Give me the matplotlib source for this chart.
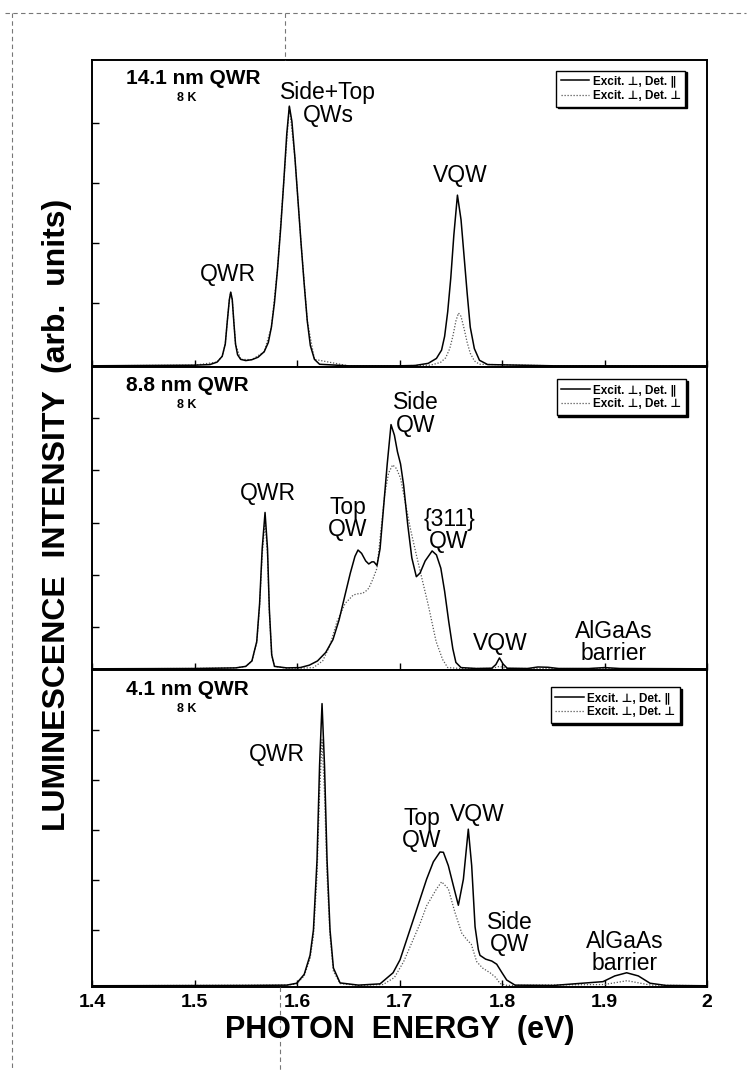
import numpy as np
import matplotlib
matplotlib.use('Agg')
import matplotlib.pyplot as plt
from matplotlib.lines import Line2D

plt.rcParams['font.family'] = ['Liberation Sans', 'DejaVu Sans']

# ---- 14.1 nm QWR, 8 K ----
e_141_par = [1.400, 1.450, 1.500, 1.515, 1.522, 1.527, 1.530, 1.532, 1.534, 1.5353, 1.5368,
             1.5385, 1.540, 1.542, 1.545, 1.550, 1.556, 1.562, 1.568, 1.572, 1.575, 1.578,
             1.581, 1.584, 1.587, 1.590, 1.5925, 1.595, 1.598, 1.601, 1.604, 1.607, 1.610,
             1.613, 1.617, 1.622, 1.650, 1.700, 1.715, 1.728, 1.736, 1.741, 1.744, 1.747,
             1.750, 1.753, 1.7565, 1.760, 1.763, 1.766, 1.769, 1.773, 1.778, 1.786, 1.850, 2.000]
i_141_par = [0.004, 0.005, 0.006, 0.008, 0.016, 0.035, 0.075, 0.150, 0.220, 0.244, 0.220,
             0.140, 0.075, 0.040, 0.025, 0.021, 0.024, 0.032, 0.050, 0.080, 0.130, 0.210,
             0.320, 0.450, 0.600, 0.760, 0.850, 0.800, 0.680, 0.540, 0.400, 0.270, 0.150,
             0.070, 0.025, 0.009, 0.004, 0.004, 0.005, 0.012, 0.028, 0.055, 0.100, 0.180,
             0.290, 0.430, 0.560, 0.480, 0.360, 0.240, 0.130, 0.060, 0.022, 0.008, 0.004, 0.004]
e_141_perp = [1.400, 1.500, 1.522, 1.527, 1.530, 1.532, 1.534, 1.5353, 1.5368, 1.5385, 1.540,
              1.545, 1.556, 1.568, 1.575, 1.581, 1.587, 1.5925, 1.598, 1.604, 1.610, 1.617,
              1.650, 1.700, 1.730, 1.740, 1.745, 1.749, 1.752, 1.755, 1.7575, 1.760, 1.763,
              1.766, 1.769, 1.773, 1.778, 1.850, 2.000]
i_141_perp = [0.004, 0.006, 0.016, 0.035, 0.075, 0.150, 0.220, 0.244, 0.220, 0.140, 0.075,
              0.025, 0.024, 0.050, 0.130, 0.320, 0.600, 0.850, 0.680, 0.400, 0.150, 0.025,
              0.004, 0.004, 0.006, 0.015, 0.030, 0.060, 0.100, 0.150, 0.176, 0.165, 0.125,
              0.080, 0.045, 0.020, 0.009, 0.004, 0.004]

# ---- 8.8 nm QWR, 8 K ----
e_88_par = [1.400, 1.500, 1.540, 1.550, 1.556, 1.5607, 1.5635, 1.566, 1.5688, 1.5712, 1.5730,
            1.5753, 1.578, 1.590, 1.603, 1.612, 1.620, 1.628, 1.635, 1.641, 1.647, 1.652,
            1.6565, 1.6595, 1.663, 1.667, 1.670, 1.673, 1.675, 1.678, 1.681, 1.684, 1.688,
            1.6917, 1.695, 1.698, 1.701, 1.704, 1.708, 1.712, 1.7164, 1.720, 1.725, 1.7318,
            1.736, 1.7403, 1.744, 1.748, 1.752, 1.755, 1.760, 1.775, 1.790, 1.794, 1.7975,
            1.801, 1.805, 1.825, 1.835, 1.845, 1.855, 1.885, 1.900, 1.915, 2.000]
i_88_par = [0.004, 0.005, 0.007, 0.012, 0.030, 0.094, 0.220, 0.400, 0.520, 0.400, 0.200,
            0.050, 0.012, 0.007, 0.008, 0.016, 0.030, 0.058, 0.100, 0.165, 0.250, 0.320,
            0.375, 0.396, 0.385, 0.360, 0.350, 0.357, 0.357, 0.345, 0.400, 0.520, 0.680,
            0.810, 0.775, 0.720, 0.680, 0.610, 0.480, 0.370, 0.308, 0.320, 0.360, 0.393,
            0.380, 0.336, 0.260, 0.160, 0.070, 0.025, 0.008, 0.005, 0.006, 0.018, 0.040,
            0.020, 0.006, 0.005, 0.010, 0.009, 0.005, 0.005, 0.008, 0.005, 0.004]
e_88_perp = [1.400, 1.500, 1.540, 1.550, 1.556, 1.5607, 1.5635, 1.566, 1.5688, 1.5712, 1.5730,
             1.5753, 1.578, 1.590, 1.603, 1.616, 1.625, 1.632, 1.639, 1.647, 1.655, 1.660,
             1.664, 1.667, 1.670, 1.674, 1.678, 1.6815, 1.6856, 1.6893, 1.6933, 1.697, 1.701,
             1.7067, 1.711, 1.7164, 1.722, 1.728, 1.7357, 1.742, 1.747, 1.760, 1.790, 1.7975,
             1.805, 2.000]
i_88_perp = [0.004, 0.005, 0.007, 0.012, 0.030, 0.090, 0.210, 0.380, 0.490, 0.380, 0.190,
             0.050, 0.012, 0.006, 0.006, 0.008, 0.030, 0.080, 0.160, 0.220, 0.248, 0.252,
             0.253, 0.260, 0.270, 0.300, 0.336, 0.450, 0.580, 0.650, 0.677, 0.665, 0.633,
             0.534, 0.460, 0.380, 0.300, 0.215, 0.094, 0.035, 0.008, 0.005, 0.005, 0.012,
             0.005, 0.004]

# ---- 4.1 nm QWR, 8 K ----
e_41_par = [1.400, 1.550, 1.590, 1.5997, 1.607, 1.6127, 1.616, 1.6195, 1.622, 1.6244, 1.6268,
            1.6293, 1.6322, 1.6355, 1.642, 1.660, 1.681, 1.6937, 1.7005, 1.7135, 1.7264,
            1.733, 1.7395, 1.7428, 1.7476, 1.7525, 1.7574, 1.7623, 1.7671, 1.7704, 1.7737,
            1.7769, 1.7785, 1.784, 1.790, 1.7948, 1.800, 1.8046, 1.8127, 1.850, 1.8985,
            1.910, 1.9216, 1.933, 1.9444, 1.960, 2.000]
i_41_par = [0.004, 0.005, 0.006, 0.012, 0.040, 0.100, 0.180, 0.400, 0.700, 0.894, 0.700,
            0.400, 0.180, 0.060, 0.013, 0.006, 0.010, 0.045, 0.086, 0.213, 0.340,
            0.395, 0.426, 0.425, 0.383, 0.320, 0.258, 0.340, 0.498, 0.383, 0.190,
            0.118, 0.100, 0.088, 0.082, 0.072, 0.045, 0.022, 0.006, 0.005, 0.017,
            0.035, 0.045, 0.035, 0.012, 0.005, 0.004]
e_41_perp = [1.400, 1.590, 1.5997, 1.607, 1.6127, 1.616, 1.6195, 1.622, 1.6244, 1.6268, 1.6293,
             1.6322, 1.6355, 1.642, 1.660, 1.684, 1.695, 1.704, 1.712, 1.720, 1.7264, 1.7362,
             1.7411, 1.7476, 1.7541, 1.7607, 1.7655, 1.770, 1.7753, 1.781, 1.7883, 1.794,
             1.798, 1.805, 1.900, 1.922, 1.945, 2.000]
i_41_perp = [0.004, 0.006, 0.010, 0.035, 0.090, 0.160, 0.350, 0.610, 0.780, 0.610, 0.350,
             0.160, 0.050, 0.011, 0.005, 0.008, 0.030, 0.080, 0.140, 0.200, 0.256, 0.310,
             0.332, 0.310, 0.235, 0.170, 0.150, 0.135, 0.080, 0.060, 0.045, 0.030,
             0.011, 0.005, 0.008, 0.020, 0.006, 0.004]

titles = ['14.1 nm QWR', '8.8 nm QWR', '4.1 nm QWR']
temps = ['8 K', '8 K', '8 K']

# peak labels: (text, energy, height)
labels_141 = [('QWR', 1.5327, 0.303), ('Side+Top\nQWs', 1.6302, 0.857), ('VQW', 1.759, 0.625)]
labels_88 = [('QWR', 1.5717, 0.584), ('Top\nQW', 1.6498, 0.50), ('Side\nQW', 1.7161, 0.845),
             ('{311}\nQW', 1.7483, 0.46), ('VQW', 1.798, 0.086), ('AlGaAs\nbarrier', 1.9093, 0.091)]
labels_41 = [('QWR', 1.5805, 0.732), ('Top\nQW', 1.722, 0.498), ('VQW', 1.7756, 0.543),
             ('Side\nQW', 1.8078, 0.169), ('AlGaAs\nbarrier', 1.92, 0.11)]

xticks = [1.4, 1.5, 1.6, 1.7, 1.8, 1.9, 2.0]
xticklabels = ['1.4', '1.5', '1.6', '1.7', '1.8', '1.9', '2']

fig = plt.figure(figsize=(7.5, 10.71), dpi=100)

# axes boxes in figure fraction (left, bottom, width, height)
boxes = [(0.1227, 0.6573, 0.82, 0.2866),
         (0.1227, 0.3744, 0.82, 0.2829),
         (0.1227, 0.0784, 0.82, 0.2960)]
yticks = [[0.208, 0.404, 0.599, 0.795],
          [0.142, 0.314, 0.485, 0.660, 0.832],
          [0.180, 0.338, 0.495, 0.653, 0.811]]
legend_anchor = [(0.965, 0.965), (0.966, 0.960), (0.956, 0.946)]

panels = [(e_141_par, i_141_par, e_141_perp, i_141_perp, labels_141),
          (e_88_par, i_88_par, e_88_perp, i_88_perp, labels_88),
          (e_41_par, i_41_par, e_41_perp, i_41_perp, labels_41)]

for k, (ep, ip, es, is_, labs) in enumerate(panels):
    ax = fig.add_axes(boxes[k])
    ax.plot(es, is_, color='#555555', lw=0.9, ls=(0, (1, 1.4)), label='Excit. \u22a5, Det. \u22a5')
    ax.plot(ep, ip, color='black', lw=1.1, label='Excit. \u22a5, Det. \u2225', zorder=3)
    ax.set_xlim(1.4, 2.0)
    ax.set_ylim(0, 1)
    ax.set_xticks(xticks)
    ax.set_yticks(yticks[k])
    ax.set_yticklabels([])
    ax.tick_params(direction='in', length=5, width=1, top=False, right=False)
    if k < 2:
        ax.set_xticklabels([])
    else:
        ax.set_xticklabels(xticklabels, fontsize=14, fontweight='bold')
        ax.tick_params(axis='x', pad=5)
    for s in ax.spines.values():
        s.set_linewidth(1.4)

    ax.text(0.055, 0.94, titles[k], transform=ax.transAxes, fontsize=15,
            fontweight='bold', ha='left', va='center')
    ax.text(0.1545, 0.876, temps[k], transform=ax.transAxes, fontsize=9,
            fontweight='bold', ha='center', va='center')

    for txt, x, y in labs:
        ax.text(x, y, txt, fontsize=16.5, ha='center', va='center', linespacing=0.95)

    h, l = ax.get_legend_handles_labels()
    leg = ax.legend(h[::-1], l[::-1], loc='upper right', bbox_to_anchor=legend_anchor[k],
                    prop={'family': ['Liberation Sans', 'DejaVu Sans'], 'weight': 'bold', 'size': 8.5},
                    handlelength=2.4, handletextpad=0.3, borderpad=0.4, labelspacing=0.2,
                    borderaxespad=0, fancybox=False, framealpha=1, edgecolor='black',
                    shadow={'color': 'black', 'alpha': 1, 'ox': 1.2, 'oy': -1.2})
    leg.get_frame().set_linewidth(1.0)

fig.text(0.533, 0.038, 'PHOTON  ENERGY  (eV)', fontsize=22, fontweight='bold',
         ha='center', va='center')
fig.text(0.076, 0.519, 'LUMINESCENCE  INTENSITY  (arb.  units)', fontsize=23,
         fontweight='bold', rotation=90, ha='center', va='center')

# faint dashed crop marks around the page
dash = dict(color='#777777', lw=0.8, ls=(0, (4, 3)), transform=fig.transFigure)
fig.add_artist(Line2D([0.007, 0.995], [0.988, 0.988], **dash))
fig.add_artist(Line2D([0.016, 0.016], [0.988, 0.0], **dash))
fig.add_artist(Line2D([0.38, 0.38], [0.988, 0.944], **dash))
fig.add_artist(Line2D([0.373, 0.373], [0.078, 0.0], **dash))

fig.savefig('out.png', dpi=100)
